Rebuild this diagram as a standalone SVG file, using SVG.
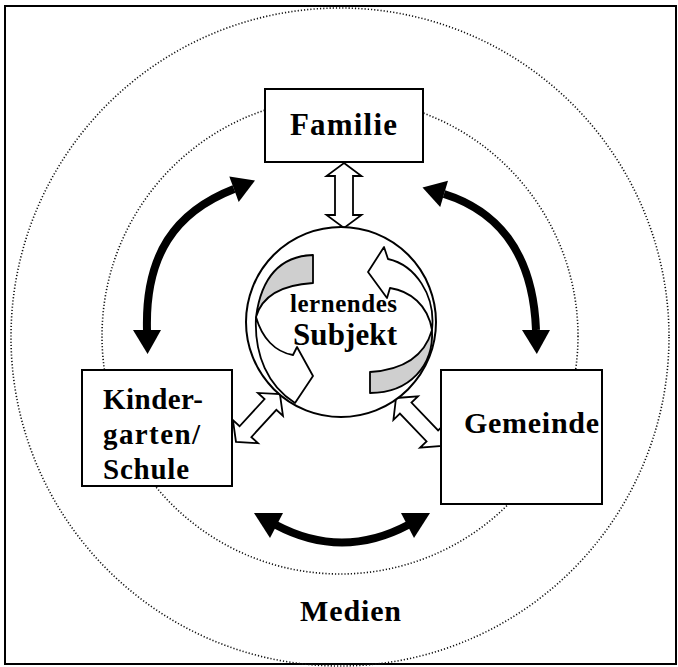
<svg xmlns="http://www.w3.org/2000/svg" width="678" height="667" viewBox="0 0 678 667">
<defs>
<style>
.box{fill:#fff;stroke:#000;stroke-width:2}
.dot{fill:none;stroke:#111;stroke-width:1.6;stroke-dasharray:1.2 2}
.lbl{font-family:"Liberation Serif","Times New Roman",serif;font-weight:bold;fill:#000}
.arc{fill:none;stroke:#000;stroke-width:8}
.head{fill:#000}
.dbl{fill:#fff;stroke:#000;stroke-width:1.8;stroke-linejoin:miter}
.band{fill:#fff;stroke:#000;stroke-width:1.8;stroke-linejoin:round}
.shade{fill:#cfcfcf;stroke:#000;stroke-width:1.8;stroke-linejoin:round}
</style>
</defs>
<rect x="0" y="0" width="678" height="667" fill="#fff"/>
<rect x="5" y="6" width="671" height="658" fill="none" stroke="#000" stroke-width="2"/>
<g id="spheres">
<circle class="dot" cx="340" cy="337" r="329"/>
<circle class="dot" cx="340" cy="336" r="238"/>
</g>
<g id="connectors">
<path class="arc" d="M234,189 C175,212 145,255 147,330"/>
<polygon class="head" points="255,180.5 238.7,202 229.3,176.5"/>
<polygon class="head" points="147.6,354 161,330 133,330"/>
<path class="arc" d="M444,194 C495,210 533,250 536,330"/>
<polygon class="head" points="422.5,187.5 448,180.8 440.2,207"/>
<polygon class="head" points="536.8,354 522,330 550,330"/>
<path class="arc" d="M276,525 Q342,560 408,525"/>
<polygon class="head" points="254,513 283,513 270,538"/>
<polygon class="head" points="430,513 401,513 414,538"/>
<polygon class="dbl" transform="translate(344,163) rotate(90)" points="0,0 13,-17.5 13,-9 52,-9 52,-17.5 65,0 52,17.5 52,9 13,9 13,17.5"/>
<polygon class="dbl" transform="translate(236,442) rotate(-47.5)" points="0,0 14,-17 14,-8 51,-8 51,-17 65,0 51,17 51,8 14,8 14,17"/>
<polygon class="dbl" transform="translate(396,398) rotate(46.2)" points="0,0 14,-17 14,-8 52.5,-8 52.5,-17 66.5,0 52.5,17 52.5,8 14,8 14,17"/>
</g>
<g id="node-familie">
<rect class="box" x="265" y="89" width="158" height="73"/>
<text class="lbl" x="290" y="135" font-size="31" textLength="107" lengthAdjust="spacing">Familie</text>
</g>
<g id="node-kindergarten">
<rect class="box" x="82" y="370" width="150" height="116"/>
<text class="lbl" x="103" y="409" font-size="29" textLength="100" lengthAdjust="spacing">Kinder-</text>
<text class="lbl" x="103" y="444" font-size="29" textLength="97" lengthAdjust="spacing">garten/</text>
<text class="lbl" x="103" y="479" font-size="29" textLength="86" lengthAdjust="spacing">Schule</text>
</g>
<g id="node-gemeinde">
<rect class="box" x="441" y="370" width="161" height="134"/>
<text class="lbl" x="464" y="433" font-size="30" textLength="135" lengthAdjust="spacing">Gemeinde</text>
</g>
<g id="node-subjekt">
<circle cx="341" cy="322" r="95" fill="#fff" stroke="#000" stroke-width="2"/>
<path class="shade" d="M313,255 C285,256 262,272 256,317 C262,296 280,285 313,283 Z"/>
<path class="band" d="M256,317 C254,355 268,386 295,403 L313,376 L297,347 L293,355 C275,352 262,338 256,317 Z"/>
<path class="shade" d="M432,330 C434,365 410,393 370,393 L370,372 C402,370 424,358 432,330 Z"/>
<path class="band" d="M432,330 C436,295 415,265 388,259 L384,247 L368,272 L387,298 L390,288 C410,291 428,305 432,330 Z"/>
<text class="lbl" x="290" y="312" font-size="25" textLength="107" lengthAdjust="spacing">lernendes</text>
<text class="lbl" x="293" y="345" font-size="31" textLength="104" lengthAdjust="spacing">Subjekt</text>
</g>
<g id="label-medien">
<text class="lbl" x="300" y="621" font-size="30" textLength="101" lengthAdjust="spacing">Medien</text>
</g>
</svg>
